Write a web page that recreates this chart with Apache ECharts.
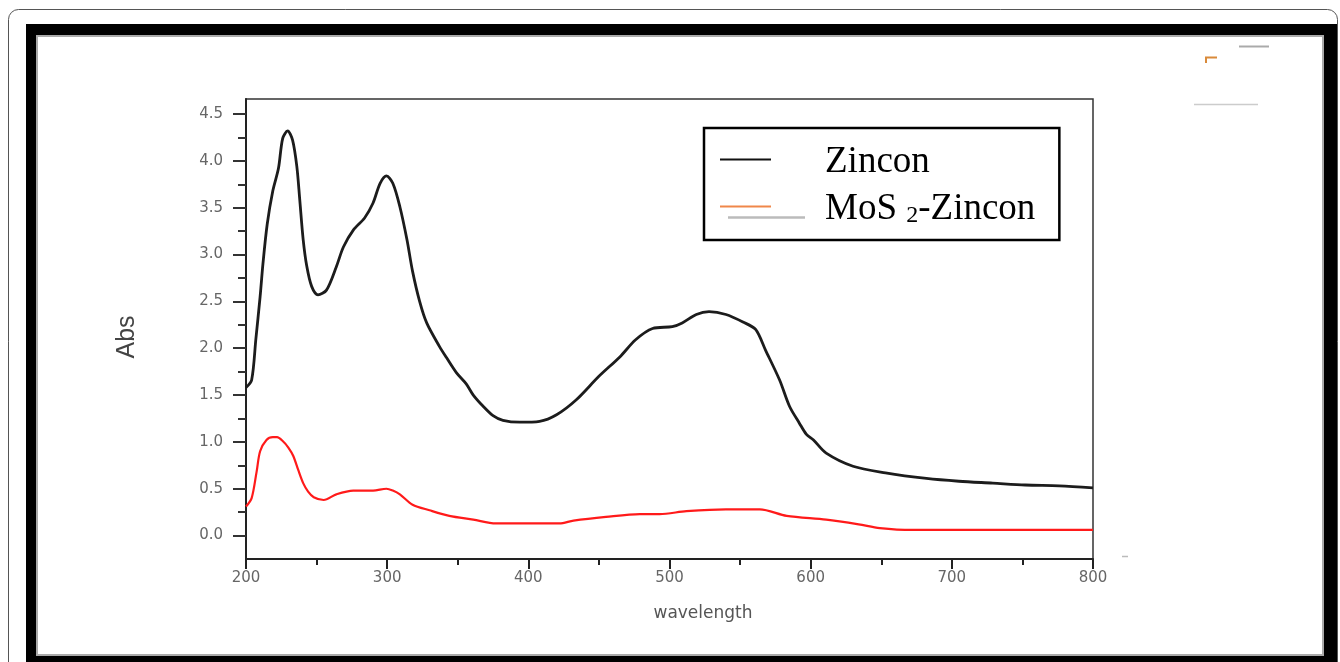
<!DOCTYPE html>
<html>
<head>
<meta charset="utf-8">
<script src="https://cdn.jsdelivr.net/npm/echarts@6/dist/echarts.min.js"></script>
<style>
html,body{margin:0;padding:0;background:#fff;}
#c{width:1340px;height:662px;}
</style>
</head>
<body>
<div id="c"></div>
<script>
// ---- data ----
const seriesNames = ['Zincon', 'MoS2-Zincon'];

const wlZincon = [200,204,207,210,212,215,219,223,226,229.5,233,236,238,240.5,243,246.5,251,257,264,269,276,284,290,295,299.5,304,309,314,318,323,328,337,342,349,356,361,368,375,382,394,408,420,434,450,465,476,488,502,509,519,528,540,552,561,568,578,585,592,597,602,611,630,653,682,705,729,752,776,800];
const absZincon = [1.58,1.66,2.10,2.55,2.90,3.32,3.68,3.92,4.24,4.32,4.22,3.94,3.60,3.16,2.88,2.66,2.57,2.62,2.87,3.08,3.26,3.39,3.55,3.76,3.84,3.76,3.51,3.16,2.82,2.50,2.27,2.02,1.90,1.74,1.62,1.50,1.38,1.28,1.23,1.21,1.22,1.29,1.45,1.70,1.91,2.09,2.21,2.23,2.27,2.36,2.39,2.36,2.28,2.20,1.98,1.66,1.38,1.20,1.08,1.02,0.88,0.74,0.67,0.61,0.58,0.56,0.54,0.53,0.51];

const wlMoS2 = [200,204,207.5,210,214.5,219,222,226,230,233.5,237,240.5,244,248,255,264,276,290,299.5,304,309,318,330,344,361,377,408,422,432,455,479,493,512,540,564,583,611,634,649,672,800];
const absMoS2 = [0.31,0.40,0.68,0.90,1.02,1.05,1.05,1.01,0.94,0.85,0.70,0.56,0.47,0.41,0.38,0.44,0.48,0.48,0.50,0.48,0.44,0.33,0.27,0.21,0.17,0.13,0.13,0.13,0.16,0.20,0.23,0.23,0.26,0.28,0.28,0.21,0.17,0.12,0.08,0.06,0.06];

const xTickValues = [200,300,400,500,600,700,800];
const yTickValues = [0,0.5,1.0,1.5,2.0,2.5,3.0,3.5,4.0,4.5];
const yMinorTickValues = [0.25,0.75,1.25,1.75,2.25,2.75,3.25,3.75,4.25];

const xAxisName = 'wavelength';
const yAxisName = 'Abs';

// ---- chart ----
const pairs = (xs, ys) => xs.map((x, i) => [x, ys[i]]);
const chart = echarts.init(document.getElementById('c'), null, {renderer: 'canvas'});

const tickFont = {color: '#666', fontSize: 15, fontFamily: 'DejaVu Sans'};

const option = {
  animation: false,
  backgroundColor: '#fff',
  grid: {left: 246, right: 247, top: 99, bottom: 103, show: true,
         borderColor: '#333', borderWidth: 1.5, backgroundColor: 'transparent'},
  xAxis: {
    type: 'value', min: xTickValues[0], max: xTickValues[xTickValues.length - 1], interval: 100,
    position: 'bottom',
    axisLine: {show: true, onZero: false, lineStyle: {color: '#222', width: 2}},
    axisTick: {show: true, length: 10, lineStyle: {color: '#222', width: 2}},
    minorTick: {show: true, splitNumber: 2, length: 6, lineStyle: {color: '#222', width: 2}},
    splitLine: {show: false},
    axisLabel: Object.assign({margin: 12}, tickFont),
    name: xAxisName, nameLocation: 'middle', nameGap: 46,
    nameTextStyle: {color: '#555', fontSize: 17, fontFamily: 'DejaVu Sans', padding: [0, 0, 0, 67]}
  },
  yAxis: [{
    type: 'value', min: -0.25, max: 4.66, position: 'left',
    axisLine: {show: true, onZero: false, lineStyle: {color: '#222', width: 2}},
    axisTick: {show: true, customValues: yTickValues, length: 13, lineStyle: {color: '#333', width: 2}},
    axisLabel: Object.assign({customValues: yTickValues, margin: 23, formatter: v => v.toFixed(1)}, tickFont),
    splitLine: {show: false},
    name: yAxisName, nameLocation: 'middle', nameGap: 106,
    nameTextStyle: {color: '#444', fontSize: 25, fontFamily: 'Liberation Sans', padding: [0, 16, 0, 0]}
  }, {
    type: 'value', min: -0.25, max: 4.66, position: 'left',
    axisLine: {show: false},
    axisTick: {show: true, customValues: yMinorTickValues, length: 8, lineStyle: {color: '#333', width: 2}},
    axisLabel: {show: false},
    splitLine: {show: false}
  }],
  legend: {
    orient: 'vertical', left: 704, top: 128,
    padding: [16, 24, 12, 16],
    itemGap: 10, itemWidth: 51, itemHeight: 2, icon: 'rect',
    borderColor: '#000', borderWidth: 2.5, backgroundColor: '#fff',
    textStyle: {
      fontFamily: 'Liberation Serif', fontSize: 37, color: '#000', padding: [6, 0, 0, 49],
      rich: {sub: {fontFamily: 'Liberation Serif', fontSize: 24, color: '#000', verticalAlign: 'bottom'}}
    },
    formatter: n => n === 'MoS2-Zincon' ? 'MoS {sub|2}-Zincon' : n,
    data: [{name: seriesNames[0], itemStyle: {color: '#111'}},
           {name: seriesNames[1], itemStyle: {color: '#F0874A'}}]
  },
  series: [{
    type: 'line', name: seriesNames[0], data: pairs(wlZincon, absZincon),
    symbol: 'none', smooth: 0.3, xAxisIndex: 0, yAxisIndex: 0,
    lineStyle: {color: '#1c1c1c', width: 2.8}, itemStyle: {color: '#1c1c1c'}
  }, {
    type: 'line', name: seriesNames[1], data: pairs(wlMoS2, absMoS2),
    symbol: 'none', smooth: 0.3, xAxisIndex: 0, yAxisIndex: 0,
    lineStyle: {color: '#ff1a1a', width: 2.2}, itemStyle: {color: '#ff1a1a'}
  }],
  graphic: [
    {type: 'rect', z: 0, shape: {x: 8.5, y: 9.5, width: 1329, height: 700, r: 10}, style: {fill: 'none', stroke: '#555', lineWidth: 1}},
    {type: 'rect', z: 1, shape: {x: 26, y: 24, width: 10, height: 640}, style: {fill: '#000'}},
    {type: 'rect', z: 1, shape: {x: 26, y: 24, width: 1311, height: 11}, style: {fill: '#000'}},
    {type: 'rect', z: 1, shape: {x: 1324, y: 24, width: 13, height: 640}, style: {fill: '#000'}},
    {type: 'rect', z: 1, shape: {x: 26, y: 656, width: 1311, height: 8}, style: {fill: '#000'}},
    {type: 'rect', z: 1, shape: {x: 37, y: 36, width: 1286, height: 619}, style: {fill: 'none', stroke: '#aaa', lineWidth: 2}},
    {type: 'line', z: 10, shape: {x1: 1239, y1: 46.5, x2: 1269, y2: 46.5}, style: {stroke: '#aaa', lineWidth: 2}},
    {type: 'polyline', z: 10, shape: {points: [[1206, 63], [1206, 57.5], [1217, 57.5]]}, style: {stroke: '#d98a3a', lineWidth: 2, fill: 'none'}},
    {type: 'line', z: 10, shape: {x1: 1194, y1: 104.5, x2: 1258, y2: 104.5}, style: {stroke: '#ccc', lineWidth: 1.5}},
    {type: 'line', z: 10, shape: {x1: 1122, y1: 556.5, x2: 1128, y2: 556.5}, style: {stroke: '#bbb', lineWidth: 1.5}},
    {type: 'line', z: 100, shape: {x1: 728, y1: 217.5, x2: 805, y2: 217.5}, style: {stroke: '#bbb', lineWidth: 2.5}}
  ]
};
chart.setOption(option);
</script>
</body>
</html>
